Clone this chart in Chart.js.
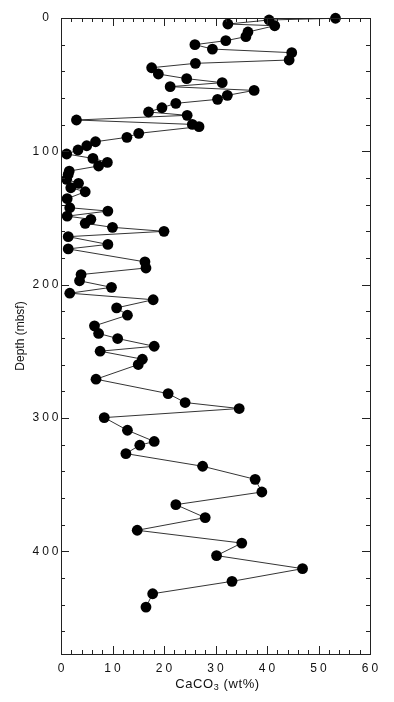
<!DOCTYPE html>
<html>
<head>
<meta charset="utf-8">
<script src="https://cdn.jsdelivr.net/npm/chart.js@4/dist/chart.umd.min.js"></script>
<style>
  html, body { margin: 0; padding: 0; background: #fff; }
  #wrap { width: 394px; height: 702px; }
</style>
</head>
<body>
<div id="wrap"><canvas id="chart" width="394" height="702"></canvas></div>
<script>
// depth below sea floor (mbsf)
const depth = [0.2, 1.5, 4.5, 5.8, 10.5, 14, 17, 20, 23.3, 26, 31.5, 34, 37.3, 42, 45.5, 48.5, 51.5, 54.3, 58, 61,
  64, 67.3, 70.5, 73, 76.5, 79.8, 81.5, 86.5, 89.5, 92.8, 95.8, 99, 102, 105.3, 108.3, 111, 114.8, 117.3, 121, 124,
  127.3, 130.3, 135.5, 142.3, 144.8, 148.6, 151, 154, 157, 160, 164, 169.8, 173.2, 182.9, 187.5, 192.4, 197.1, 202, 206.4, 211.3,
  217.4, 222.9, 230.9, 236.6, 240.4, 246.2, 249.9, 255.9, 259.9, 270.9, 281.7, 288.4, 292.9, 299.7, 309.2, 317.6, 320.4, 326.7, 336.2, 346,
  355.5, 365, 374.7, 384.2, 393.8, 403.2, 413, 422.5, 431.8, 441.8];
// CaCO3 content (wt%)
const caco3 = [53.3, 40.4, 32.4, 41.5, 36.3, 35.9, 32.0, 26.0, 29.4, 44.8, 44.3, 26.1, 17.6, 18.9, 24.4, 31.3, 21.2, 37.5, 32.3, 30.4,
  22.3, 19.6, 17.0, 24.5, 3.0, 25.5, 26.8, 15.1, 12.8, 6.7, 5.0, 3.3, 1.1, 6.2, 9.0, 7.3, 1.6, 1.4, 1.1, 3.4,
  1.9, 4.7, 1.2, 1.7, 9.1, 1.2, 5.8, 4.7, 10.0, 20.0, 1.4, 9.1, 1.4, 16.3, 16.5, 3.9, 3.6, 9.8, 1.7, 17.9,
  10.8, 12.9, 6.5, 7.3, 11.0, 18.1, 7.6, 15.8, 15.0, 6.8, 20.8, 24.1, 34.6, 8.4, 12.9, 18.1, 15.3, 12.6, 27.5, 37.7,
  39.0, 22.3, 28.0, 14.8, 35.1, 30.2, 46.9, 33.2, 17.8, 16.5];

const xTicks = [0, 10, 20, 30, 40, 50, 60];
const yTicks = [0, 100, 200, 300, 400];

const FONT = '"Liberation Sans", Arial, Helvetica, sans-serif';

// frame, inward ticks, labels and titles
const framePlugin = {
  id: 'frame',
  afterDraw(chart) {
    const ctx = chart.ctx;
    const xs = chart.scales.x, ys = chart.scales.y;
    const a = chart.chartArea;
    ctx.save();
    ctx.strokeStyle = '#222';
    ctx.lineWidth = 1;

    // x ticks every 2, major every 10
    for (let v = 0; v <= 60; v += 2) {
      const px = Math.round(xs.getPixelForValue(v)) + 0.5;
      const len = v % 10 === 0 ? 8 : 4;
      ctx.beginPath();
      ctx.moveTo(px, a.bottom); ctx.lineTo(px, a.bottom - len);
      ctx.moveTo(px, a.top); ctx.lineTo(px, a.top + len);
      ctx.stroke();
    }
    // y ticks every 20, major every 100
    for (let v = 0; v <= ys.max; v += 20) {
      const py = Math.round(ys.getPixelForValue(v)) + 0.5;
      const len = v % 100 === 0 ? 8 : 4;
      ctx.beginPath();
      ctx.moveTo(a.left, py); ctx.lineTo(a.left + len, py);
      ctx.moveTo(a.right, py); ctx.lineTo(a.right - len, py);
      ctx.stroke();
    }
    ctx.strokeRect(Math.round(a.left) + 0.5, Math.round(a.top) + 0.5,
      Math.round(a.right - a.left), Math.round(a.bottom - a.top));

    ctx.fillStyle = '#111';
    ctx.font = '12px ' + FONT;
    ctx.letterSpacing = '3px';
    ctx.textBaseline = 'middle';
    ctx.textAlign = 'center';
    xTicks.forEach(v => {
      ctx.fillText(String(v), xs.getPixelForValue(v) + 1.5, a.bottom + 15);
    });
    yTicks.forEach(v => {
      ctx.fillText(String(v), 47, ys.getPixelForValue(v));
    });

    // x title with subscript
    ctx.letterSpacing = '0.6px';
    ctx.font = '13px ' + FONT;
    const cx = (a.left + a.right) / 2 + 2;
    const ty = a.bottom + 30;
    const t1 = 'CaCO', t2 = '3', t3 = ' (wt%)';
    const w1 = ctx.measureText(t1).width;
    const w3 = ctx.measureText(t3).width;
    ctx.font = '9px ' + FONT;
    const w2 = ctx.measureText(t2).width;
    let x0 = cx - (w1 + w2 + w3) / 2;
    ctx.textAlign = 'left';
    ctx.font = '13px ' + FONT;
    ctx.fillText(t1, x0, ty);
    ctx.font = '9px ' + FONT;
    ctx.fillText(t2, x0 + w1, ty + 4);
    ctx.font = '13px ' + FONT;
    ctx.fillText(t3, x0 + w1 + w2, ty);

    // y title
    ctx.letterSpacing = '0px';
    ctx.font = '12px ' + FONT;
    ctx.translate(21, (a.top + a.bottom) / 2);
    ctx.rotate(-Math.PI / 2);
    ctx.textAlign = 'center';
    ctx.fillText('Depth (mbsf)', 0, 0);
    ctx.restore();
  }
};

new Chart(document.getElementById('chart'), {
  type: 'scatter',
  data: {
    datasets: [{
      data: depth.map((d, i) => ({ x: caco3[i], y: d })),
      showLine: true,
      borderColor: '#000',
      borderWidth: 0.8,
      backgroundColor: '#000',
      pointBackgroundColor: '#000',
      pointBorderColor: '#000',
      pointRadius: 5.4,
      pointBorderWidth: 0,
      clip: false
    }]
  },
  options: {
    responsive: false,
    animation: false,
    layout: { padding: { left: 0, top: 18, right: 24, bottom: 0 } },
    plugins: { legend: { display: false }, tooltip: { enabled: false } },
    scales: {
      x: {
        type: 'linear', min: 0, max: 60,
        grid: { display: false, drawTicks: false },
        border: { display: false },
        ticks: { display: false },
        afterFit(scale) { scale.height = 48; }
      },
      y: {
        type: 'linear', min: 0, max: 477, reverse: true,
        grid: { display: false, drawTicks: false },
        border: { display: false },
        ticks: { display: false },
        afterFit(scale) { scale.width = 61; }
      }
    }
  },
  plugins: [framePlugin]
});
</script>
</body>
</html>
